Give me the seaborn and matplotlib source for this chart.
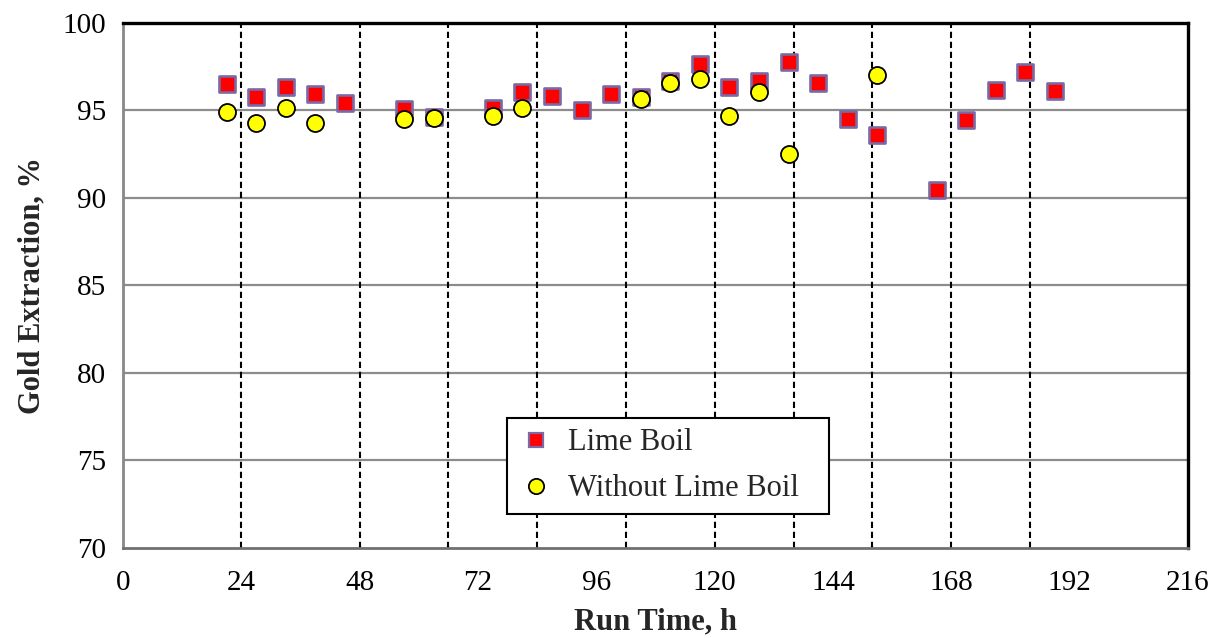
import matplotlib
matplotlib.use("Agg")
import matplotlib.pyplot as plt
import seaborn as sns
import pandas as pd
from matplotlib.lines import Line2D

# Data
lime_time = [21, 27, 33, 39, 45, 57, 63, 75, 81, 87, 93, 99, 105, 111, 117, 123, 129, 135, 141, 147, 153, 165, 171, 177, 183, 189]
lime_gold = [96.50, 95.75, 96.36, 95.94, 95.45, 95.10, 94.62, 95.12, 96.06, 95.85, 95.03, 95.96, 95.75, 96.69, 97.68, 96.34, 96.69, 97.79, 96.55, 94.51, 93.58, 90.46, 94.48, 96.17, 97.18, 96.11]
nolime_time = [21, 27, 33, 39, 57, 63, 75, 81, 105, 111, 117, 123, 129, 135, 153]
nolime_gold = [94.90, 94.30, 95.16, 94.29, 94.49, 94.59, 94.67, 95.12, 95.66, 96.59, 96.78, 94.67, 96.04, 92.51, 97.03]
dashed_times = [24, 48, 66, 84, 102, 120, 136, 152, 168, 184]
x_ticks = [0, 24, 48, 72, 96, 120, 144, 168, 192, 216]
y_ticks = [70, 75, 80, 85, 90, 95, 100]

sns.set_theme(style="white")
plt.rcParams['font.family'] = ['Liberation Serif', 'DejaVu Serif']

fig, ax = plt.subplots(figsize=(12.28, 6.38), dpi=100)
fig.subplots_adjust(left=0.1002, right=0.9674, top=0.964, bottom=0.1411)

# horizontal grid
for yv in y_ticks[1:-1]:
    ax.axhline(yv, color='#8c8c8c', lw=1.6, zorder=1)
# dashed vertical lines
for xv in dashed_times:
    ax.axvline(xv, color='black', lw=1.5, linestyle=(0, (3, 1.8)), zorder=2)

df_l = pd.DataFrame({'t': lime_time, 'g': lime_gold})
df_n = pd.DataFrame({'t': nolime_time, 'g': nolime_gold})
sns.scatterplot(data=df_l, x='t', y='g', marker='s', s=135, color='#ff0000',
                edgecolor='#7b68a6', linewidth=1.9, ax=ax, zorder=3)
sns.scatterplot(data=df_n, x='t', y='g', marker='o', s=150, color='#ffff00',
                edgecolor='black', linewidth=1.3, ax=ax, zorder=4)

ax.set_xlim(0, 216)
ax.set_ylim(70, 100)
ax.set_xticks(x_ticks)
ax.set_yticks(y_ticks)
ax.tick_params(axis='both', labelsize=21, colors='#888888', labelcolor='black',
               direction='out', length=7, width=1.5)
ax.tick_params(axis='y', pad=5)
ax.tick_params(axis='x', pad=9)

ax.set_xlabel('Run Time, h', fontsize=22, fontweight='bold', labelpad=8)
ax.set_ylabel('Gold Extraction, %', fontsize=22, fontweight='bold', labelpad=12)

for side in ['top', 'right']:
    ax.spines[side].set_color('black')
    ax.spines[side].set_linewidth(2.4)
ax.spines['left'].set_color('#888888')
ax.spines['left'].set_linewidth(2.0)
ax.spines['bottom'].set_color('#707070')
ax.spines['bottom'].set_linewidth(2.0)

handles = [
    Line2D([], [], marker='s', linestyle='none', markersize=10, markerfacecolor='#ff0000',
           markeredgecolor='#7b68a6', markeredgewidth=1.6, label='Lime Boil'),
    Line2D([], [], marker='o', linestyle='none', markersize=11, markerfacecolor='#ffff00',
           markeredgecolor='black', markeredgewidth=1.3, label='Without Lime Boil'),
]
leg = ax.legend(handles=handles, loc='lower left', bbox_to_anchor=(0.3606, 0.0648, 0.3024, 0.185),
                mode='expand', fontsize=22, frameon=True, fancybox=False, edgecolor='black',
                framealpha=1, borderpad=0.35, labelspacing=0.55, handletextpad=0.45,
                handlelength=1.2, borderaxespad=0)
leg.get_frame().set_linewidth(1.5)

fig.savefig('out.png', dpi=100)
